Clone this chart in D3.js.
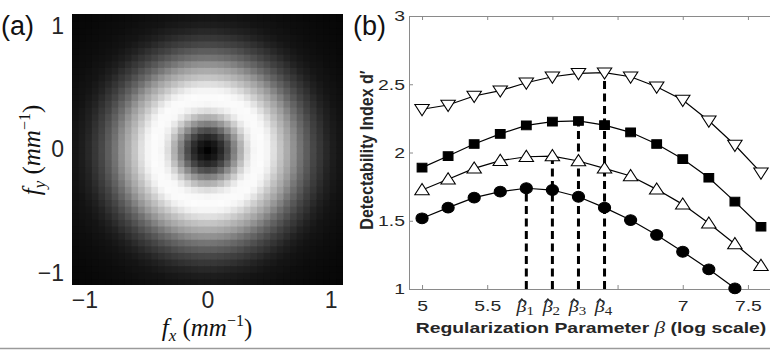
<!DOCTYPE html>
<html>
<head>
<meta charset="utf-8">
<script src="https://cdn.jsdelivr.net/npm/d3@7"></script>
<style>
  body { margin: 0; background: #fff; }
  svg { display: block; }
</style>
</head>
<body>
<div id="chart"></div>
<script>
// panel (a): radial profile of the filter image (radius in mm^-1 -> gray 0..255)
const profileRadius = [0, 0.06, 0.115, 0.17, 0.22, 0.28, 0.33, 0.38, 0.45, 0.5, 0.55, 0.60, 0.66, 0.71, 0.76, 0.82, 0.87, 0.93, 0.98, 1.04, 1.09, 1.2, 1.35, 1.6];
const profileGray   = [2, 16, 42, 82, 132, 185, 228, 248, 252, 242, 218, 192, 165, 140, 112, 87, 67, 50, 36, 26, 20, 14, 9, 5];
const gridCount = 41;
const freqTicks = [-1, 0, 1];

// panel (b)
const betaX = [5.0, 5.2, 5.4, 5.6, 5.8, 6.0, 6.2, 6.4, 6.6, 6.8, 7.0, 7.2, 7.4, 7.6];
const seriesDown   = [2.317, 2.348, 2.414, 2.453, 2.511, 2.555, 2.580, 2.585, 2.555, 2.482, 2.385, 2.233, 2.055, 1.852];
const seriesSquare = [1.889, 1.974, 2.062, 2.136, 2.199, 2.226, 2.231, 2.201, 2.148, 2.062, 1.952, 1.815, 1.640, 1.456];
const seriesUp     = [1.725, 1.804, 1.884, 1.940, 1.969, 1.974, 1.938, 1.884, 1.828, 1.730, 1.620, 1.481, 1.330, 1.171];
const seriesCircle = [1.518, 1.596, 1.669, 1.713, 1.738, 1.725, 1.676, 1.596, 1.505, 1.396, 1.273, 1.144, 1.005];
const betaHat = [5.8, 6.0, 6.2, 6.4];
const betaHatTop = [1.738, 1.974, 2.231, 2.585];
const xTicks = [5, 5.5, 6, 6.5, 7, 7.5];
const xTickLabels = {5: "5", 5.5: "5.5", 7: "7", 7.5: "7.5"};
const yTicks = [1, 1.5, 2, 2.5, 3];

const W = 770, H = 350;
const svg = d3.select("#chart").append("svg").attr("width", W).attr("height", H);
const sans = "'Liberation Sans', Arial, sans-serif";
const serif = "'Liberation Serif', 'Times New Roman', serif";
const K = 1.25; // panel (b) text is drawn wider than tall

// widen a text horizontally while keeping its anchor x in place
function stretch(sel, k) {
  sel.each(function() {
    const x = +(this.getAttribute("x") || 0);
    d3.select(this).attr("transform", `translate(${x * (1 - k)},0) scale(${k},1)`);
  });
}

// ---------- panel (a) ----------
const ax = d3.scaleLinear().domain([-1.1, 1.1]).range([72, 343]);
const ay = d3.scaleLinear().domain([-1.1, 1.1]).range([285, 14]);
const grayScale = d3.scaleLinear().domain(profileRadius).range(profileGray).clamp(true);

const step = 2.2 / gridCount;
const cells = [];
for (let i = 0; i < gridCount; i++) {
  for (let j = 0; j < gridCount; j++) {
    const fx = -1.1 + (i + 0.5) * step;
    const fy = -1.1 + (j + 0.5) * step;
    cells.push({fx, fy, r: Math.hypot(fx, fy)});
  }
}
const cw = ax(step) - ax(0);
svg.append("g").selectAll("rect").data(cells).enter().append("rect")
  .attr("x", d => ax(d.fx - step / 2))
  .attr("y", d => ay(d.fy + step / 2))
  .attr("width", d => d.fx + step > 1.1 ? cw : cw + 1)
  .attr("height", d => d.fy - step < -1.1 ? cw : cw + 1)
  .attr("fill", d => { const g = Math.round(grayScale(d.r)); return `rgb(${g},${g},${g})`; });

const aFont = g => g.selectAll("text").attr("font-family", sans).attr("font-size", 23).attr("fill", "#262626");
svg.append("g").attr("transform", "translate(0,285)")
  .call(d3.axisBottom(ax).tickValues(freqTicks).tickSize(0).tickPadding(7).tickFormat(d3.format("d")))
  .call(g => g.select(".domain").remove())
  .call(aFont);
svg.append("g").attr("transform", "translate(72,0)")
  .call(d3.axisLeft(ay).tickValues(freqTicks).tickSize(0).tickPadding(8).tickFormat(d3.format("d")))
  .call(g => g.select(".domain").remove())
  .call(aFont);

function freqLabel(t, sub) {
  t.append("tspan").attr("font-style", "italic").text("f");
  t.append("tspan").attr("font-style", "italic").attr("font-size", 17).attr("dy", 5).text(sub);
  t.append("tspan").attr("dy", -5).text(" (");
  t.append("tspan").attr("font-style", "italic").text("mm");
  t.append("tspan").attr("font-size", 16).attr("dy", -10).text("\u22121");
  t.append("tspan").attr("dy", 10).text(")");
}
freqLabel(svg.append("text").attr("x", 207).attr("y", 336).attr("text-anchor", "middle")
  .attr("font-family", serif).attr("font-size", 25).attr("fill", "#111"), "x");
freqLabel(svg.append("text").attr("transform", "translate(40,150) rotate(-90)").attr("text-anchor", "middle")
  .attr("font-family", serif).attr("font-size", 25).attr("fill", "#111"), "y");

svg.append("text").attr("x", 1).attr("y", 35).attr("font-family", sans).attr("font-size", 27).attr("fill", "#111").text("(a)");

// ---------- panel (b) ----------
const bx = d3.scaleLinear().domain([4.9, 7.7]).range([409, 774]);
const by = d3.scaleLinear().domain([1, 3]).range([289, 16]);
const axisColor = "#8a8a8a";

const styleAxis = g => {
  g.select(".domain").attr("stroke", axisColor);
  g.selectAll(".tick line").attr("stroke", axisColor);
  g.selectAll("text").attr("font-family", sans).attr("font-size", 15.5).attr("fill", "#262626").call(stretch, K);
};
svg.append("g").attr("transform", "translate(0,289)")
  .call(d3.axisBottom(bx).tickValues(xTicks).tickSizeInner(-4).tickSizeOuter(0).tickPadding(11)
    .tickFormat(d => xTickLabels[d] || ""))
  .call(styleAxis);
svg.append("g").attr("transform", "translate(0,16)")
  .call(d3.axisTop(bx).tickValues(xTicks).tickSizeInner(-4).tickSizeOuter(0).tickFormat(""))
  .call(styleAxis);
svg.append("g").attr("transform", "translate(409,0)")
  .call(d3.axisLeft(by).tickValues(yTicks).tickSizeInner(-4).tickSizeOuter(0).tickPadding(4).tickFormat(d3.format("")))
  .call(styleAxis);

// dashed optimum lines
svg.append("g").selectAll("line").data(betaHat).enter().append("line")
  .attr("x1", d => bx(d)).attr("x2", d => bx(d))
  .attr("y1", by(1)).attr("y2", (d, i) => by(betaHatTop[i]))
  .attr("stroke", "#000").attr("stroke-width", 3).attr("stroke-dasharray", "8,4.5");

// beta hat tick labels (hat drawn as a small chevron)
betaHat.forEach((b, i) => {
  const g = svg.append("g").attr("transform", `translate(${bx(b) - 1},312) scale(${K},1)`);
  const t = g.append("text").attr("text-anchor", "middle").attr("font-family", serif).attr("font-size", 16).attr("fill", "#262626");
  t.append("tspan").attr("font-style", "italic").text("\u03b2");
  t.append("tspan").attr("font-size", 12).attr("dy", 2.5).text(i + 1);
  g.append("path").attr("d", "M-5.5,-9.5L-2.8,-13L-0.1,-9.5")
    .attr("fill", "none").attr("stroke", "#262626").attr("stroke-width", 1.1);
});

const line = d3.line().x(d => bx(d[0])).y(d => by(d[1]));
const series = [
  {vals: seriesDown, type: d3.symbolTriangle, rot: 180, fill: "#fff", size: 72},
  {vals: seriesSquare, type: d3.symbolSquare, rot: 0, fill: "#000", size: 75},
  {vals: seriesUp, type: d3.symbolTriangle, rot: 0, fill: "#fff", size: 72},
  {vals: seriesCircle, type: d3.symbolCircle, rot: 0, fill: "#000", size: 92}
];
series.forEach(s => {
  const pts = s.vals.map((v, i) => [betaX[i], v]);
  svg.append("path").datum(pts).attr("d", line).attr("fill", "none").attr("stroke", "#000").attr("stroke-width", 1.2);
  svg.append("g").selectAll("path").data(pts).enter().append("path")
    .attr("d", d3.symbol().type(s.type).size(s.size))
    .attr("transform", d => `translate(${bx(d[0])},${by(d[1]) + (s.type === d3.symbolTriangle ? (s.rot ? -1 : 1) : 0)}) scale(1.12,1) rotate(${s.rot})`)
    .attr("fill", s.fill).attr("stroke", "#000").attr("stroke-width", 1);
});

// labels
const xl = svg.append("text").attr("x", 591).attr("y", 333).attr("text-anchor", "middle")
  .attr("font-family", sans).attr("font-size", 15.5).attr("font-weight", "bold").attr("fill", "#262626");
xl.append("tspan").text("Regularization Parameter ");
xl.append("tspan").attr("font-family", serif).attr("font-style", "italic").attr("font-weight", "normal").attr("font-size", 17).text("\u03b2");
xl.append("tspan").text(" (log scale)");
stretch(xl, K);

svg.append("text").attr("transform", `translate(373,150) scale(${K * 0.95},1) rotate(-90)`).attr("text-anchor", "middle")
  .attr("font-family", sans).attr("font-size", 16).attr("font-weight", "bold").attr("fill", "#262626")
  .text("Detectability Index d\u2032");

svg.append("text").attr("x", 353).attr("y", 35).attr("font-family", sans).attr("font-size", 27).attr("fill", "#111").text("(b)");

// separator at the bottom
svg.append("line").attr("x1", 0).attr("x2", W).attr("y1", 348.5).attr("y2", 348.5).attr("stroke", "#9a9a9a").attr("stroke-width", 1.5);
</script>
</body>
</html>
